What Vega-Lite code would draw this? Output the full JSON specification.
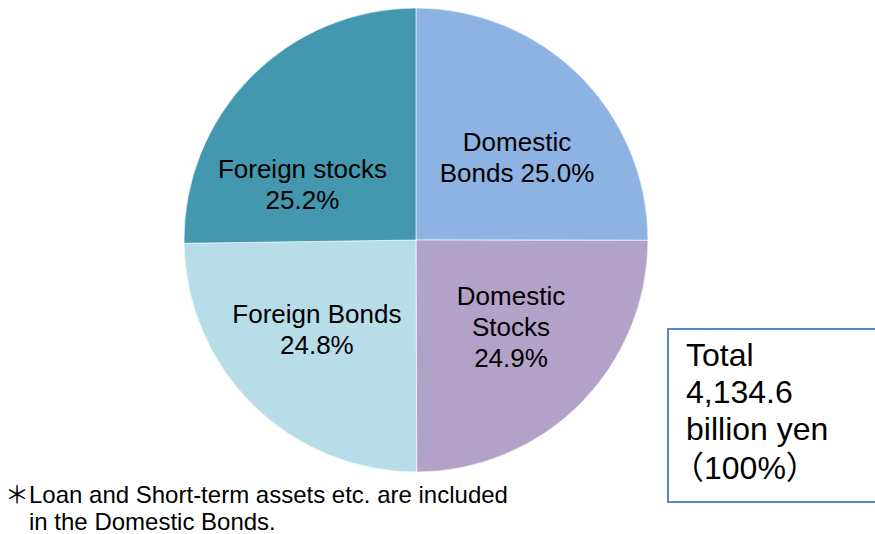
{
  "$schema": "https://vega.github.io/schema/vega-lite/v6.json",
  "width": 832,
  "height": 480,
  "autosize": {"type": "none"},
  "padding": {"left": 0, "top": 0, "right": 43, "bottom": 54},
  "background": "white",
  "config": {"view": {"stroke": null}, "font": "Liberation Sans"},
  "data": {
    "values": [
      {"category": "Domestic Bonds", "share": 25.0, "label": "Domestic\nBonds 25.0%"},
      {"category": "Domestic Stocks", "share": 24.9, "label": "Domestic\nStocks\n24.9%"},
      {"category": "Foreign Bonds", "share": 24.8, "label": "Foreign Bonds\n24.8%"},
      {"category": "Foreign stocks", "share": 25.2, "label": "Foreign stocks\n25.2%"}
    ]
  },
  "layer": [
    {
      "encoding": {
        "theta": {"field": "share", "type": "quantitative", "stack": true},
        "order": {"field": "category", "type": "nominal", "sort": "ascending"}
      },
      "layer": [
        {
          "mark": {"type": "arc", "outerRadius": 232, "stroke": "white", "strokeWidth": 0.6},
          "encoding": {
            "color": {
              "field": "category",
              "type": "nominal",
              "scale": {
                "domain": ["Domestic Bonds", "Domestic Stocks", "Foreign Bonds", "Foreign stocks"],
                "range": ["#8DB3E2", "#B2A2C7", "#B7DDE8", "#4397AE"]
              },
              "legend": null
            }
          }
        },
        {
          "mark": {"type": "text", "radius": 130, "dx": 9, "dy": -5, "fontSize": 26, "lineHeight": 31, "lineBreak": "\n", "align": "center", "baseline": "middle", "color": "black", "font": "Liberation Sans"},
          "encoding": {
            "detail": {"field": "category"},
            "text": {"condition": {"test": "datum.category === 'Domestic Bonds'", "field": "label"}, "value": ""}
          }
        },
        {
          "mark": {"type": "text", "radius": 130, "dx": 3, "dy": -35, "fontSize": 26, "lineHeight": 31, "lineBreak": "\n", "align": "center", "baseline": "middle", "color": "black", "font": "Liberation Sans"},
          "encoding": {
            "detail": {"field": "category"},
            "text": {"condition": {"test": "datum.category === 'Domestic Stocks'", "field": "label"}, "value": ""}
          }
        },
        {
          "mark": {"type": "text", "radius": 130, "dx": -8, "dy": -18, "fontSize": 26, "lineHeight": 31, "lineBreak": "\n", "align": "center", "baseline": "middle", "color": "black", "font": "Liberation Sans"},
          "encoding": {
            "detail": {"field": "category"},
            "text": {"condition": {"test": "datum.category === 'Foreign Bonds'", "field": "label"}, "value": ""}
          }
        },
        {
          "mark": {"type": "text", "radius": 130, "dx": -21, "dy": 21, "fontSize": 26, "lineHeight": 31, "lineBreak": "\n", "align": "center", "baseline": "middle", "color": "black", "font": "Liberation Sans"},
          "encoding": {
            "detail": {"field": "category"},
            "text": {"condition": {"test": "datum.category === 'Foreign stocks'", "field": "label"}, "value": ""}
          }
        }
      ]
    },
    {
      "data": {"values": [{}]},
      "mark": {"type": "rect", "x": 668, "x2": 880, "y": 329, "y2": 502, "fill": "white", "stroke": "#5A8AC6", "strokeWidth": 2}
    },
    {
      "data": {"values": [{}]},
      "mark": {"type": "text", "text": ["Total", "4,134.6", "billion yen"], "x": 686, "y": 356, "align": "left", "baseline": "middle", "fontSize": 32, "lineHeight": 37, "color": "black", "font": "Liberation Sans"}
    },
    {
      "data": {"values": [{}]},
      "mark": {"type": "text", "text": "（100%）", "x": 672, "y": 469, "align": "left", "baseline": "middle", "fontSize": 32, "color": "black", "font": "Liberation Sans, Noto Sans CJK JP"}
    },
    {
      "data": {"values": [{}]},
      "mark": {"type": "text", "text": "＊Loan and Short-term assets etc. are included", "x": 5, "y": 496, "align": "left", "baseline": "middle", "fontSize": 24, "color": "black", "font": "Liberation Sans, Noto Sans CJK JP"}
    },
    {
      "data": {"values": [{}]},
      "mark": {"type": "text", "text": "in the Domestic Bonds.", "x": 29, "y": 523, "align": "left", "baseline": "middle", "fontSize": 24, "color": "black", "font": "Liberation Sans"}
    }
  ]
}
